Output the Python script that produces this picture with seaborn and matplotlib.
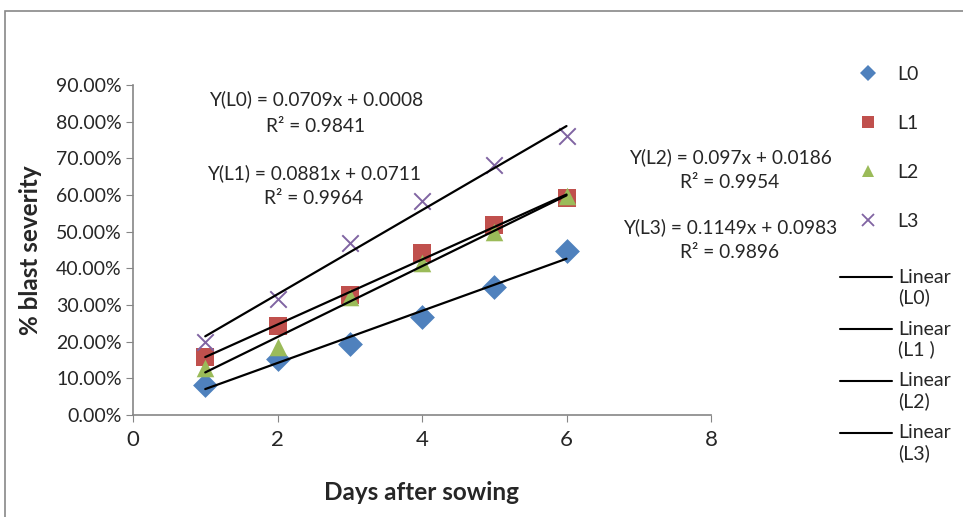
import seaborn as sns
import matplotlib.pyplot as plt
import pandas as pd
import numpy as np
from matplotlib.ticker import FuncFormatter
from matplotlib.lines import Line2D
from matplotlib.patches import Rectangle
from matplotlib.transforms import offset_copy

sns.set_style("white")
plt.rcParams["font.family"] = ["Lato", "DejaVu Sans"]

# data
days = [1, 2, 3, 4, 5, 6]
L0 = [0.082, 0.152, 0.194, 0.267, 0.349, 0.447]
L1 = [0.158, 0.243, 0.327, 0.441, 0.518, 0.591]
L2 = [0.128, 0.185, 0.322, 0.414, 0.499, 0.597]
L3 = [0.199, 0.316, 0.469, 0.583, 0.681, 0.760]
series = ["L0", "L1", "L2", "L3"]
colors = ["#4F81BD", "#C0504D", "#9BBB59", "#8064A2"]
markers = ["D", "s", "^", "x"]
fit_text = [
    ("Y(L0) = 0.0709x + 0.0008", "R\u00b2 = 0.9841"),
    ("Y(L1) = 0.0881x + 0.0711", "R\u00b2 = 0.9964"),
    ("Y(L2) = 0.097x + 0.0186", "R\u00b2 = 0.9954"),
    ("Y(L3) = 0.1149x + 0.0983", "R\u00b2 = 0.9896"),
]
linear_labels = ["Linear\n(L0)", "Linear\n(L1 )", "Linear\n(L2)", "Linear\n(L3)"]

df = pd.DataFrame({
    "Day": days * 4,
    "Severity": L0 + L1 + L2 + L3,
    "Line": sum([[s] * len(days) for s in series], []),
})

W, H = 963, 517
fig = plt.figure(figsize=(W / 100, H / 100), dpi=100)
ax = fig.add_axes([133 / W, 1 - 415 / H, (711 - 133) / W, (415 - 85) / H])

# outer chart border
fig.patches.append(Rectangle((5 / W, -0.1), 1.2, 1.1 - 11 / H, transform=fig.transFigure,
                             fill=False, edgecolor="#888888", linewidth=1.2))

for s, c, m in zip(series, colors, markers):
    sub = df[df["Line"] == s]
    sns.scatterplot(data=sub, x="Day", y="Severity", color=c, marker=m,
                    s=160 if m != "x" else 140, linewidth=0 if m != "x" else 1.4,
                    edgecolor=c, ax=ax, zorder=3)
for s in series:
    sub = df[df["Line"] == s]
    sns.regplot(data=sub, x="Day", y="Severity", ci=None, scatter=False, truncate=True,
                line_kws={"color": "black", "linewidth": 1.6, "zorder": 4}, ax=ax)

ax.set_xlim(0, 8)
ax.set_ylim(0, 0.9)
ax.set_xticks([0, 2, 4, 6, 8])
ax.set_yticks(np.arange(0, 0.91, 0.1))
ax.yaxis.set_major_formatter(FuncFormatter(lambda v, p: f"{v:.2%}"))
ax.tick_params(axis="y", labelsize=14, length=5, color="#868686", left=True, pad=3)
ax.tick_params(axis="x", labelsize=16, length=5, color="#868686", bottom=True, pad=6)
for side in ["top", "right"]:
    ax.spines[side].set_visible(False)
for side in ["left", "bottom"]:
    ax.spines[side].set_color("#868686")
    ax.spines[side].set_linewidth(1.2)
ax.set_xlabel("Days after sowing", fontsize=17.5, fontweight="bold", labelpad=22)
ax.set_ylabel("% blast severity", fontsize=17.5, fontweight="bold", labelpad=10)

# trendline equations
eq_pos = [(316, 99, 127), (314, 173, 199), (730, 157, 182), (730, 227, 252)]
for (eq, r2), (px, py1, py2) in zip(fit_text, eq_pos):
    fig.text(px / W, 1 - py1 / H, eq, ha="center", va="center", fontsize=13.8)
    fig.text(px / W, 1 - py2 / H, r2, ha="center", va="center", fontsize=13.8)

# legends
mk_handles = [Line2D([], [], linestyle="none", marker=m, color=c,
                     markersize=8 if m != "x" else 9, markeredgewidth=1.3 if m == "x" else 0)
              for c, m in zip(colors, markers)]
leg1 = fig.legend(mk_handles, series, loc="upper left", bbox_to_anchor=(849 / W, 1 - 56 / H),
                  frameon=False, fontsize=14, labelspacing=1.65, handlelength=1.0,
                  handletextpad=1.0, borderpad=0)
ln_handles = [Line2D([], [], color="black", linewidth=1.5) for _ in series]
leg2 = fig.legend(ln_handles, linear_labels, loc="upper left", bbox_to_anchor=(830 / W, 1 - 259 / H),
                  frameon=False, fontsize=14, labelspacing=0.72, handlelength=2.7,
                  handletextpad=0.3, borderpad=0)
# line handle sits level with the first text line, as in the original
for ln in leg2.get_lines():
    ln.set_transform(offset_copy(ln.get_transform(), fig=fig, x=0, y=11, units="dots"))

fig.savefig("out.png", dpi=100)
plt.close()
